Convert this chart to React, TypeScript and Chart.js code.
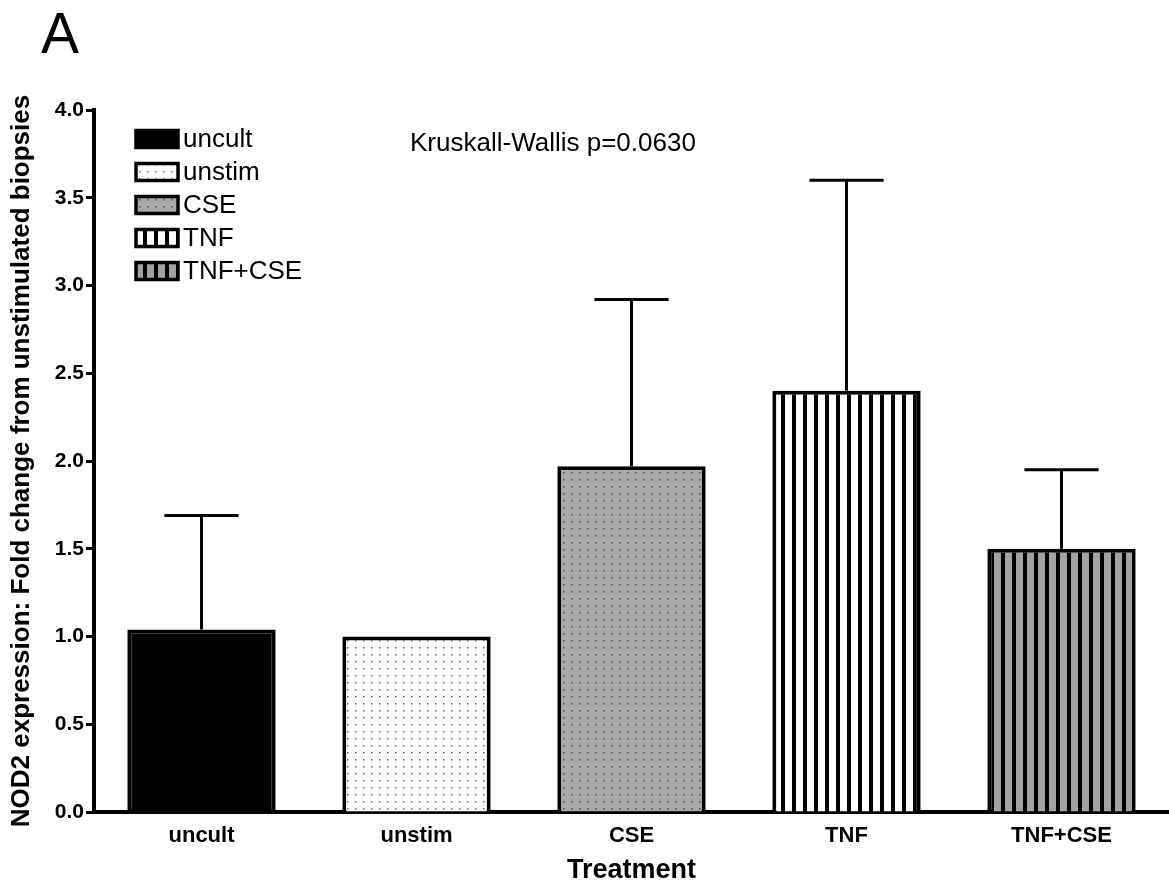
import React, { useEffect, useRef } from "react";
import { Chart, registerables } from "chart.js";

Chart.register(...registerables);

const CATEGORIES = ["uncult", "unstim", "CSE", "TNF", "TNF+CSE"];
const MEANS = [1.04, 1.0, 1.97, 2.4, 1.5];
const SEM = [0.65, 0, 0.95, 1.2, 0.45];
const Y_TICKS = [0, 0.5, 1.0, 1.5, 2.0, 2.5, 3.0, 3.5, 4.0];
const Y_TITLE = "NOD2 expression: Fold change from unstimulated biopsies";
const X_TITLE = "Treatment";
const ANNOTATION = "Kruskall-Wallis p=0.0630";
const PANEL = "A";

const FONT = "'Liberation Sans', Arial, Helvetica, sans-serif";

function makePattern(bg: string, kind: string): CanvasPattern | string {
  const c = document.createElement("canvas");
  const g = c.getContext("2d");
  if (!g) return bg;
  if (kind === "solid") return bg;
  if (kind === "dots") {
    c.width = 8;
    c.height = 7;
    g.fillStyle = bg;
    g.fillRect(0, 0, c.width, c.height);
    g.fillStyle = bg === "#ffffff" ? "#6a6a6a" : "#505050";
    g.fillRect(3, 3, 1.5, 1.5);
  } else {
    c.width = 11;
    c.height = 4;
    g.fillStyle = bg;
    g.fillRect(0, 0, c.width, c.height);
    g.fillStyle = "#000000";
    g.fillRect(0, 0, 4, 4);
  }
  const p = g.createPattern(c, "repeat");
  return p || bg;
}

export default function App() {
  const ref = useRef<HTMLCanvasElement | null>(null);

  useEffect(() => {
    document.body.style.margin = "0";
    const canvas = ref.current;
    if (!canvas) return;

    const fills = [
      makePattern("#000000", "solid"),
      makePattern("#ffffff", "dots"),
      makePattern("#a9a9a9", "dots"),
      makePattern("#ffffff", "stripes"),
      makePattern("#a2a2a2", "stripes"),
    ];

    const errorBars = {
      id: "errorBars",
      beforeDatasetsDraw(chart: any) {
        const { ctx } = chart;
        const y = chart.scales.y;
        const meta = chart.getDatasetMeta(0);
        ctx.save();
        ctx.strokeStyle = "#000";
        ctx.lineWidth = 3;
        meta.data.forEach((bar: any, i: number) => {
          const sem = SEM[i];
          if (!sem) return;
          const top = y.getPixelForValue(MEANS[i]);
          const end = y.getPixelForValue(MEANS[i] + sem);
          const half = bar.width / 4;
          ctx.beginPath();
          ctx.moveTo(bar.x, top);
          ctx.lineTo(bar.x, end);
          ctx.moveTo(bar.x - half, end);
          ctx.lineTo(bar.x + half, end);
          ctx.stroke();
        });
        ctx.restore();
      },
    };

    const decorations = {
      id: "decorations",
      afterDraw(chart: any) {
        const { ctx } = chart;
        ctx.save();
        // legend
        ctx.font = `26px ${FONT}`;
        ctx.textBaseline = "middle";
        ctx.textAlign = "left";
        CATEGORIES.forEach((name, i) => {
          const cy = 139 + i * 33;
          const bx = 136;
          const bw = 42;
          const bh = 17;
          ctx.fillStyle = fills[i];
          ctx.fillRect(bx, cy - bh / 2, bw, bh);
          ctx.strokeStyle = "#000";
          ctx.lineWidth = 3.5;
          ctx.strokeRect(bx, cy - bh / 2, bw, bh);
          ctx.fillStyle = "#000";
          ctx.fillText(name, 183, cy + 1);
        });
        // annotation
        ctx.font = `26px ${FONT}`;
        ctx.fillText(ANNOTATION, 410, 144);
        // panel letter
        ctx.font = `57px ${FONT}`;
        ctx.textBaseline = "alphabetic";
        ctx.fillText(PANEL, 41, 53);
        ctx.restore();
      },
    };

    const chart = new Chart(canvas, {
      type: "bar",
      data: {
        labels: CATEGORIES,
        datasets: [
          {
            data: MEANS,
            backgroundColor: fills as any,
            borderColor: "#000",
            borderWidth: 4,
            borderSkipped: "bottom",
            barPercentage: 0.69,
            categoryPercentage: 1,
          },
        ],
      },
      options: {
        responsive: false,
        animation: false,
        devicePixelRatio: 1,
        layout: { padding: { top: 110, right: 0, left: 0, bottom: 0 } },
        plugins: {
          legend: { display: false },
          tooltip: { enabled: false },
        },
        scales: {
          x: {
            grid: { display: false, drawTicks: false },
            border: { display: true, width: 4, color: "#000" },
            ticks: {
              color: "#000",
              font: { family: FONT, size: 22, weight: "bold" },
              padding: 11,
            },
            title: {
              display: true,
              text: X_TITLE,
              color: "#000",
              font: { family: FONT, size: 27, weight: "bold" },
              padding: { top: 0, bottom: 2 },
            },
            afterFit(scale: any) {
              scale.height = 77;
            },
          },
          y: {
            min: 0,
            max: 4,
            afterBuildTicks(scale: any) {
              scale.ticks = Y_TICKS.map((v) => ({ value: v }));
            },
            grid: {
              display: true,
              drawOnChartArea: false,
              drawTicks: true,
              tickLength: 8,
              tickWidth: 3,
              tickColor: "#000",
            },
            border: { display: true, width: 4, color: "#000" },
            ticks: {
              color: "#000",
              font: { family: FONT, size: 21, weight: "bold" },
              padding: 2,
              callback: (v: any) => Number(v).toFixed(1),
            },
            title: {
              display: true,
              text: Y_TITLE,
              color: "#000",
              font: { family: FONT, size: 26, weight: "bold" },
              padding: { top: 6, bottom: 0 },
            },
            afterFit(scale: any) {
              scale.width = 94;
            },
          },
        },
      },
      plugins: [errorBars, decorations],
    });

    return () => chart.destroy();
  }, []);

  return (
    <div style={{ width: 1169, height: 889 }}>
      <canvas ref={ref} width={1169} height={889} style={{ display: "block" }} />
    </div>
  );
}
